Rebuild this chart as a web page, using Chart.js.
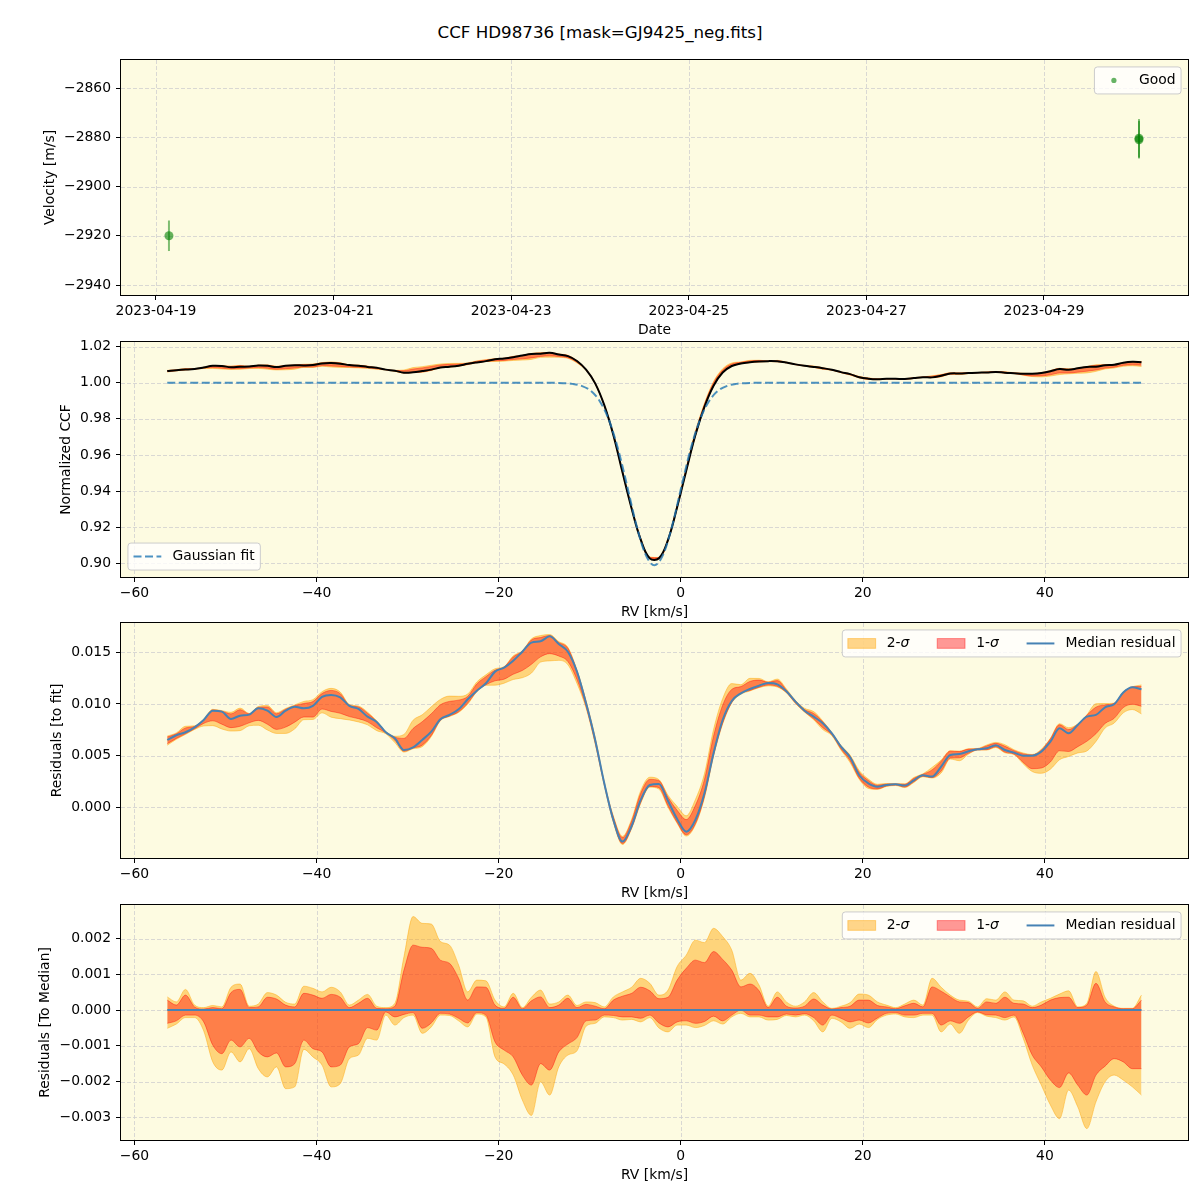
<!DOCTYPE html>
<html lang="en">
<head>
<meta charset="UTF-8">
<title>CCF HD98736 [mask=GJ9425_neg.fits]</title>
<script src="https://cdn.jsdelivr.net/npm/chart.js"></script>
<style>
  body { margin: 0; background: #ffffff; font-family: 'DejaVu Sans', sans-serif; }
  #page { position: relative; width: 1200px; height: 1200px; overflow: hidden; }
  #suptitle { position: absolute; left: 0; top: 21px; width: 1200px; text-align: center;
              font-size: 16.7px; line-height: 22px; color: #000; }
  .panel { position: absolute; left: 0; width: 1200px; height: 299px; }
</style>
</head>
<body>
<div id="page">
  <div id="suptitle">CCF HD98736 [mask=GJ9425_neg.fits]</div>
  <div class="panel" style="top:44px"><canvas id="velChart"></canvas></div>
  <div class="panel" style="top:326px"><canvas id="ccfChart"></canvas></div>
  <div class="panel" style="top:607px"><canvas id="residChart"></canvas></div>
  <div class="panel" style="top:889px"><canvas id="medChart"></canvas></div>
</div>
<script>
// ---------- data ----------
// velocity panel: days after 2023-04-19 00:00
const obsDays = [0.146, 11.07, 11.07];
const obsVel = [-2920.0, -2881.0, -2880.4];
const obsErr = [6.2, 7.6, 7.8];
const dateTicks = [0, 2, 4, 6, 8, 10];
const dateLabels = ['2023-04-19', '2023-04-21', '2023-04-23', '2023-04-25', '2023-04-27', '2023-04-29'];
const velTicks = [-2940, -2920, -2900, -2880, -2860];

// CCF grid (km/s)
const rv = [
  -56.4, -55.4, -54.4, -53.4, -52.4, -51.4, -50.4, -49.4, -48.4, -47.4,
  -46.4, -45.4, -44.4, -43.4, -42.4, -41.4, -40.4, -39.4, -38.4, -37.4,
  -36.4, -35.4, -34.4, -33.4, -32.4, -31.4, -30.4, -29.4, -28.4, -27.4,
  -26.4, -25.4, -24.4, -23.4, -22.4, -21.4, -20.4, -19.4, -18.4, -17.4,
  -16.4, -15.4, -14.4, -13.4, -12.4, -11.4, -10.4, -9.4, -8.4, -7.4,
  -6.4, -5.4, -4.4, -3.4, -2.4, -1.4, -0.4, 0.6, 1.6, 2.6,
  3.6, 4.6, 5.6, 6.6, 7.6, 8.6, 9.6, 10.6, 11.6, 12.6,
  13.6, 14.6, 15.6, 16.6, 17.6, 18.6, 19.6, 20.6, 21.6, 22.6,
  23.6, 24.6, 25.6, 26.6, 27.6, 28.6, 29.6, 30.6, 31.6, 32.6,
  33.6, 34.6, 35.6, 36.6, 37.6, 38.6, 39.6, 40.6, 41.6, 42.6,
  43.6, 44.6, 45.6, 46.6, 47.6, 48.6, 49.6, 50.6
];

// median normalized CCF
const ccfMedian = [
  1.0065, 1.0070, 1.0073, 1.0077, 1.0085, 1.0094, 1.0093, 1.0086, 1.0089, 1.0090,
  1.0096, 1.0094, 1.0087, 1.0094, 1.0097, 1.0096, 1.0098, 1.0107, 1.0109, 1.0106,
  1.0098, 1.0095, 1.0088, 1.0083, 1.0073, 1.0067, 1.0056, 1.0058, 1.0065, 1.0073,
  1.0085, 1.0089, 1.0095, 1.0105, 1.0113, 1.0120, 1.0131, 1.0135, 1.0142, 1.0151,
  1.0159, 1.0161, 1.0166, 1.0157, 1.0148, 1.0121, 1.0073, 0.9997, 0.9876, 0.9710,
  0.9504, 0.9304, 0.9131, 0.9027, 0.9028, 0.9130, 0.9311, 0.9513, 0.9710, 0.9867,
  0.9984, 1.0057, 1.0093, 1.0107, 1.0114, 1.0118, 1.0120, 1.0119, 1.0112, 1.0102,
  1.0094, 1.0088, 1.0081, 1.0072, 1.0059, 1.0048, 1.0031, 1.0023, 1.0020, 1.0022,
  1.0022, 1.0021, 1.0026, 1.0031, 1.0030, 1.0039, 1.0051, 1.0052, 1.0054, 1.0056,
  1.0057, 1.0060, 1.0056, 1.0053, 1.0050, 1.0050, 1.0054, 1.0064, 1.0076, 1.0072,
  1.0080, 1.0088, 1.0089, 1.0097, 1.0100, 1.0111, 1.0116, 1.0114
];

// Gaussian fit, sampled on its own grid
const gaussRv = [-56.4, -13.9, -12.9, -11.9, -10.9, -9.9, -8.9, -7.9, -6.9, -5.9, -4.9, -3.9,
  -2.9, -1.9, -0.9, 0.1, 1.1, 2.1, 3.1, 4.1, 5.1, 6.1, 7.1, 8.1, 50.6];
const gaussFit = [1.0000, 1.0000, 0.9998, 0.9994, 0.9983, 0.9956, 0.9898, 0.9795, 0.9636, 0.9431, 0.9217, 0.9052,
  0.8989, 0.9052, 0.9217, 0.9431, 0.9636, 0.9795, 0.9898, 0.9956, 0.9983, 0.9994, 0.9998, 1.0000, 1.0000];

// median residual to the fit
const residMedian = [
  0.00652, 0.00697, 0.00726, 0.00774, 0.00845, 0.00935, 0.00926, 0.00855, 0.00887, 0.00897,
  0.00958, 0.00935, 0.00874, 0.00935, 0.00974, 0.00958, 0.00981, 0.01068, 0.01087, 0.01064,
  0.00981, 0.00952, 0.00877, 0.00826, 0.00726, 0.00668, 0.00555, 0.00581, 0.00652, 0.00732,
  0.00852, 0.00894, 0.00948, 0.01045, 0.01129, 0.01200, 0.01313, 0.01352, 0.01419, 0.01506,
  0.01594, 0.01606, 0.01655, 0.01581, 0.01506, 0.01313, 0.01006, 0.00652, 0.00232, -0.00123,
  -0.00332, -0.00181, 0.00071, 0.00216, 0.00226, 0.00061, -0.00113, -0.00236, -0.00123, 0.00135,
  0.00523, 0.00845, 0.01029, 0.01103, 0.01145, 0.01177, 0.01203, 0.01190, 0.01123, 0.01023,
  0.00935, 0.00877, 0.00813, 0.00716, 0.00587, 0.00484, 0.00310, 0.00232, 0.00200, 0.00216,
  0.00222, 0.00210, 0.00261, 0.00310, 0.00297, 0.00393, 0.00506, 0.00516, 0.00542, 0.00561,
  0.00571, 0.00600, 0.00555, 0.00529, 0.00500, 0.00500, 0.00539, 0.00635, 0.00764, 0.00716,
  0.00797, 0.00877, 0.00894, 0.00968, 0.00997, 0.01110, 0.01161, 0.01142
];

// band edges relative to the median
const sig2Hi = [
  0.00037, 0.00023, 0.00058, 0.00014, 0.00007, 0.00013, 0.00009, 0.00064, 0.00073, 0.00011,
  0.00017, 0.00049, 0.00042, 0.00022, 0.00017, 0.00067, 0.00061, 0.00051, 0.00064, 0.00051,
  0.00014, 0.00028, 0.00044, 0.00011, 0.00007, 0.00019, 0.00150, 0.00262, 0.00243, 0.00241,
  0.00192, 0.00182, 0.00126, 0.00051, 0.00084, 0.00082, 0.00028, 0.00009, 0.00047, 0.00007,
  0.00036, 0.00056, 0.00017, 0.00023, 0.00042, 0.00013, 0.00023, 0.00021, 0.00009, 0.00037,
  0.00051, 0.00064, 0.00089, 0.00075, 0.00042, 0.00056, 0.00122, 0.00154, 0.00196, 0.00189,
  0.00229, 0.00206, 0.00168, 0.00084, 0.00103, 0.00070, 0.00011, 0.00051, 0.00023, 0.00011,
  0.00023, 0.00049, 0.00023, 0.00005, 0.00011, 0.00021, 0.00045, 0.00042, 0.00023, 0.00014,
  0.00007, 0.00017, 0.00028, 0.00014, 0.00089, 0.00064, 0.00042, 0.00028, 0.00025, 0.00009,
  0.00032, 0.00028, 0.00051, 0.00028, 0.00026, 0.00011, 0.00023, 0.00033, 0.00045, 0.00054,
  0.00009, 0.00019, 0.00108, 0.00036, 0.00011, 0.00005, 0.00005, 0.00042
];
const sig1Hi = [
  0.00028, 0.00014, 0.00042, 0.00009, 0.00003, 0.00007, 0.00004, 0.00049, 0.00058, 0.00007,
  0.00009, 0.00036, 0.00031, 0.00014, 0.00009, 0.00047, 0.00042, 0.00033, 0.00044, 0.00036,
  0.00007, 0.00019, 0.00033, 0.00005, 0.00004, 0.00011, 0.00112, 0.00182, 0.00176, 0.00173,
  0.00140, 0.00131, 0.00089, 0.00028, 0.00065, 0.00064, 0.00014, 0.00005, 0.00036, 0.00004,
  0.00026, 0.00037, 0.00007, 0.00014, 0.00033, 0.00007, 0.00016, 0.00011, 0.00004, 0.00028,
  0.00039, 0.00047, 0.00064, 0.00054, 0.00032, 0.00036, 0.00084, 0.00117, 0.00140, 0.00133,
  0.00164, 0.00142, 0.00112, 0.00065, 0.00073, 0.00054, 0.00007, 0.00036, 0.00011, 0.00006,
  0.00011, 0.00031, 0.00014, 0.00003, 0.00007, 0.00011, 0.00028, 0.00028, 0.00013, 0.00009,
  0.00004, 0.00012, 0.00019, 0.00009, 0.00065, 0.00053, 0.00037, 0.00023, 0.00021, 0.00005,
  0.00023, 0.00019, 0.00036, 0.00019, 0.00017, 0.00007, 0.00014, 0.00028, 0.00035, 0.00036,
  0.00007, 0.00014, 0.00075, 0.00023, 0.00009, 0.00004, 0.00004, 0.00028
];
const sig1Lo = [
  -0.00037, -0.00030, -0.00014, -0.00014, -0.00033, -0.00098, -0.00122, -0.00084, -0.00103, -0.00079,
  -0.00117, -0.00131, -0.00120, -0.00159, -0.00150, -0.00084, -0.00108, -0.00117, -0.00159, -0.00154,
  -0.00103, -0.00094, -0.00049, -0.00056, -0.00005, -0.00019, -0.00012, -0.00007, -0.00051, -0.00036,
  -0.00009, -0.00011, -0.00023, -0.00036, -0.00007, -0.00014, -0.00089, -0.00112, -0.00131, -0.00182,
  -0.00210, -0.00150, -0.00168, -0.00117, -0.00095, -0.00077, -0.00030, -0.00028, -0.00014, -0.00015,
  -0.00019, -0.00019, -0.00023, -0.00014, -0.00036, -0.00047, -0.00033, -0.00030, -0.00037, -0.00032,
  -0.00017, -0.00030, -0.00014, 0.00000, -0.00014, -0.00014, -0.00019, -0.00019, -0.00011, -0.00014,
  -0.00010, -0.00021, -0.00042, -0.00014, -0.00023, -0.00033, -0.00028, -0.00036, -0.00022, -0.00009,
  -0.00007, -0.00014, -0.00014, -0.00009, -0.00009, -0.00042, -0.00030, -0.00037, -0.00019, -0.00005,
  -0.00013, -0.00014, -0.00021, -0.00014, -0.00064, -0.00126, -0.00159, -0.00196, -0.00217, -0.00176,
  -0.00210, -0.00238, -0.00182, -0.00157, -0.00136, -0.00145, -0.00164, -0.00164
];
const sig2Lo = [
  -0.00051, -0.00039, -0.00021, -0.00021, -0.00058, -0.00145, -0.00168, -0.00117, -0.00145, -0.00108,
  -0.00164, -0.00187, -0.00159, -0.00220, -0.00215, -0.00110, -0.00131, -0.00154, -0.00215, -0.00206,
  -0.00136, -0.00126, -0.00079, -0.00084, -0.00014, -0.00042, -0.00021, -0.00014, -0.00065, -0.00047,
  -0.00014, -0.00015, -0.00030, -0.00047, -0.00011, -0.00019, -0.00131, -0.00151, -0.00182, -0.00252,
  -0.00295, -0.00201, -0.00238, -0.00159, -0.00126, -0.00114, -0.00045, -0.00037, -0.00019, -0.00021,
  -0.00028, -0.00026, -0.00033, -0.00021, -0.00050, -0.00061, -0.00042, -0.00042, -0.00049, -0.00043,
  -0.00030, -0.00039, -0.00019, -0.00009, -0.00019, -0.00019, -0.00028, -0.00026, -0.00015, -0.00019,
  -0.00014, -0.00030, -0.00061, -0.00023, -0.00033, -0.00051, -0.00039, -0.00049, -0.00026, -0.00014,
  -0.00011, -0.00019, -0.00021, -0.00014, -0.00014, -0.00061, -0.00039, -0.00065, -0.00028, -0.00007,
  -0.00017, -0.00021, -0.00028, -0.00019, -0.00078, -0.00154, -0.00210, -0.00266, -0.00304, -0.00224,
  -0.00271, -0.00332, -0.00257, -0.00201, -0.00182, -0.00196, -0.00215, -0.00238
];

const rvTicks = [-60, -40, -20, 0, 20, 40];
const ccfTicks = [0.90, 0.92, 0.94, 0.96, 0.98, 1.00, 1.02];
const residTicks = [0.000, 0.005, 0.010, 0.015];
const medTicks = [-0.003, -0.002, -0.001, 0.000, 0.001, 0.002];

// ---------- styling ----------
const PLOT_BG = '#fdfbe1';
const GRID = '#cfcfcf';
const SIG2 = 'rgba(255,165,0,0.45)';
const SIG1 = 'rgba(255,0,0,0.4)';
const MED = '#4682b4';
const GAUSS = 'rgba(31,119,180,0.8)';
const OBS = 'rgba(0,128,0,0.6)';
const FS = 13.9;
const FONT = "'DejaVu Sans', sans-serif";

Chart.defaults.font.family = FONT;
Chart.defaults.font.size = FS;
Chart.defaults.color = '#000';

const fmtNum = (v, d) => (v < 0 ? '\u2212' : '') + Math.abs(v).toFixed(d);
const pts = (xs, ys) => xs.map((x, i) => ({ x, y: ys[i] }));
const shifted = (base, off) => rv.map((x, i) => ({ x, y: base[i] + off[i] }));

const legends = {
  velChart: { corner: 'ur', items: [{ type: 'marker', color: OBS, parts: [{ t: 'Good' }] }] },
  ccfChart: { corner: 'll', items: [{ type: 'line', color: GAUSS, dash: [8, 3.5], parts: [{ t: 'Gaussian fit' }] }] },
  residChart: { corner: 'ur', items: [
    { type: 'patch', color: SIG2, parts: [{ t: '2-' }, { t: '\u03c3', it: true }] },
    { type: 'patch', color: SIG1, parts: [{ t: '1-' }, { t: '\u03c3', it: true }] },
    { type: 'line', color: MED, parts: [{ t: 'Median residual' }] }] },
};
legends.medChart = legends.residChart;

function setFont(ctx, it) { ctx.font = (it ? 'italic ' : '') + FS + 'px ' + FONT; }

function drawLegend(chart, spec) {
  const { ctx, chartArea: a } = chart;
  const pad = 0.4 * FS, hl = 2 * FS, htp = 0.8 * FS, cs = 2 * FS, bap = 0.5 * FS, h = 27;
  ctx.save();
  const widths = spec.items.map(item => item.parts.reduce((w, p) => { setFont(ctx, p.it); return w + ctx.measureText(p.t).width; }, 0));
  const w = 2 * pad + spec.items.length * (hl + htp) + widths.reduce((s, v) => s + v, 0) + cs * (spec.items.length - 1);
  const x0 = spec.corner === 'ur' ? a.right - bap - w : a.left + bap;
  const y0 = spec.corner === 'ur' ? a.top + bap : a.bottom - bap - h;
  ctx.beginPath();
  if (ctx.roundRect) ctx.roundRect(x0, y0, w, h, 3); else ctx.rect(x0, y0, w, h);
  ctx.fillStyle = 'rgba(255,255,255,0.8)';
  ctx.fill();
  ctx.strokeStyle = '#cccccc';
  ctx.lineWidth = 1;
  ctx.stroke();
  const cy = y0 + h / 2;
  let x = x0 + pad;
  spec.items.forEach(item => {
    if (item.type === 'patch') {
      ctx.fillStyle = item.color;
      ctx.strokeStyle = item.color;
      ctx.fillRect(x, cy - 0.35 * FS, hl, 0.7 * FS);
      ctx.strokeRect(x, cy - 0.35 * FS, hl, 0.7 * FS);
    } else if (item.type === 'line') {
      ctx.strokeStyle = item.color;
      ctx.lineWidth = 2;
      ctx.setLineDash(item.dash || []);
      ctx.beginPath(); ctx.moveTo(x, cy); ctx.lineTo(x + hl, cy); ctx.stroke();
      ctx.setLineDash([]);
    } else {
      ctx.fillStyle = item.color;
      ctx.beginPath(); ctx.arc(x + hl / 2, cy, 2.6, 0, Math.PI * 2); ctx.fill();
    }
    x += hl + htp;
    ctx.fillStyle = '#000';
    ctx.textBaseline = 'middle';
    ctx.textAlign = 'left';
    item.parts.forEach(p => { setFont(ctx, p.it); ctx.fillText(p.t, x, cy); x += ctx.measureText(p.t).width; });
    x += cs;
  });
  ctx.restore();
}

// background, dashed grid, frame and legend like matplotlib axes
const mplAxes = {
  id: 'mplAxes',
  beforeDraw(chart) {
    const { ctx, chartArea: a } = chart;
    ctx.save();
    ctx.fillStyle = PLOT_BG;
    ctx.fillRect(a.left, a.top, a.right - a.left, a.bottom - a.top);
    ctx.restore();
  },
  beforeDatasetsDraw(chart) {
    const { ctx, chartArea: a, scales } = chart;
    ctx.save();
    ctx.strokeStyle = GRID;
    ctx.lineWidth = 0.8;
    ctx.setLineDash([4, 2]);
    scales.x.ticks.forEach(t => {
      const px = Math.round(scales.x.getPixelForValue(t.value)) + 0.5;
      ctx.beginPath(); ctx.moveTo(px, a.top); ctx.lineTo(px, a.bottom); ctx.stroke();
    });
    scales.y.ticks.forEach(t => {
      const py = Math.round(scales.y.getPixelForValue(t.value)) + 0.5;
      ctx.beginPath(); ctx.moveTo(a.left, py); ctx.lineTo(a.right, py); ctx.stroke();
    });
    ctx.restore();
  },
  afterDraw(chart) {
    const { ctx, chartArea: a } = chart;
    ctx.save();
    ctx.strokeStyle = '#000';
    ctx.lineWidth = 1;
    ctx.strokeRect(a.left - 0.5, a.top - 0.5, a.right - a.left + 1, a.bottom - a.top + 1);
    ctx.restore();
    const spec = legends[chart.canvas.id];
    if (spec) drawLegend(chart, spec);
  }
};

const errorBars = {
  id: 'errorBars',
  afterDatasetsDraw(chart) {
    const { ctx, scales: { x, y } } = chart;
    ctx.save();
    ctx.strokeStyle = 'rgba(0,128,0,0.5)';
    ctx.lineWidth = 2;
    obsDays.forEach((d, i) => {
      const px = x.getPixelForValue(d);
      ctx.beginPath();
      ctx.moveTo(px, y.getPixelForValue(obsVel[i] - obsErr[i]));
      ctx.lineTo(px, y.getPixelForValue(obsVel[i] + obsErr[i]));
      ctx.stroke();
    });
    ctx.restore();
  }
};

const tickGrid = { drawOnChartArea: false, drawTicks: true, tickLength: 5, tickColor: '#000', tickWidth: 1 };

function xAxis(title, ticks, labels, min, max) {
  return {
    type: 'linear', min, max,
    afterFit: s => { s.height = 48; },
    afterBuildTicks: s => { s.ticks = ticks.map(v => ({ value: v })); },
    grid: tickGrid,
    border: { display: false },
    ticks: { autoSkip: false, maxRotation: 0, padding: 3, color: '#000',
             callback: (v, i) => labels ? labels[i] : fmtNum(v, 0) },
    title: { display: true, text: title, color: '#000', padding: { top: 4, bottom: 4 } }
  };
}

function yAxis(title, ticks, dec, min, max, width) {
  return {
    type: 'linear', min, max,
    afterFit: s => { s.width = width; },
    afterBuildTicks: s => { s.ticks = ticks.map(v => ({ value: v })); },
    grid: tickGrid,
    border: { display: false },
    ticks: { padding: 5, color: '#000', callback: v => fmtNum(v, dec) },
    title: { display: true, text: title, color: '#000', padding: { top: 4, bottom: 4 } }
  };
}

function options(padLeft, xs, ys) {
  return {
    responsive: true,
    maintainAspectRatio: false,
    animation: false,
    events: [],
    layout: { padding: { top: 16, right: 12, bottom: 0, left: padLeft } },
    elements: { point: { radius: 0 }, line: { cubicInterpolationMode: 'monotone', borderJoinStyle: 'round' } },
    plugins: { legend: { display: false }, tooltip: { enabled: false } },
    scales: { x: xs, y: ys }
  };
}

function bandSets(base) {
  return [
    { data: shifted(base, sig2Lo), borderColor: SIG2, borderWidth: 1, fill: false, order: 4 },
    { data: shifted(base, sig2Hi), borderColor: SIG2, borderWidth: 1, backgroundColor: SIG2, fill: '-1', order: 3 },
    { data: shifted(base, sig1Lo), borderColor: SIG1, borderWidth: 1, fill: false, order: 2 },
    { data: shifted(base, sig1Hi), borderColor: SIG1, borderWidth: 1, backgroundColor: SIG1, fill: '-1', order: 1 }
  ];
}

const rvMin = -61.48, rvMax = 55.71;

// panel 1: velocity time series
new Chart(document.getElementById('velChart'), {
  type: 'scatter',
  data: { datasets: [{ data: pts(obsDays, obsVel), pointRadius: 4.5, backgroundColor: OBS, borderWidth: 0 }] },
  options: options(38, xAxis('Date', dateTicks, dateLabels, -0.394, 11.622),
                   yAxis('Velocity [m/s]', velTicks, 0, -2944.06, -2848.6, 83)),
  plugins: [mplAxes, errorBars]
});

// panel 2: normalized CCF with Gaussian fit
new Chart(document.getElementById('ccfChart'), {
  type: 'line',
  data: { datasets: [
    ...bandSets(ccfMedian),
    { data: pts(rv, ccfMedian), borderColor: '#000', borderWidth: 2, fill: false, order: 0.5,
      cubicInterpolationMode: 'default', tension: 0.4 },
    { data: pts(gaussRv, gaussFit), borderColor: GAUSS, borderWidth: 2, borderDash: [8, 3.5], fill: false, order: 0 }
  ] },
  options: options(54, xAxis('RV [km/s]', rvTicks, null, rvMin, rvMax),
                   yAxis('Normalized CCF', ccfTicks, 2, 0.8924, 1.0226, 67)),
  plugins: [mplAxes]
});

// panel 3: residuals to the fit
new Chart(document.getElementById('residChart'), {
  type: 'line',
  data: { datasets: [
    ...bandSets(residMedian),
    { data: pts(rv, residMedian), borderColor: MED, borderWidth: 2, fill: false, order: 0 }
  ] },
  options: options(45, xAxis('RV [km/s]', rvTicks, null, rvMin, rvMax),
                   yAxis('Residuals [to fit]', residTicks, 3, -0.004907, 0.017836, 76)),
  plugins: [mplAxes]
});

// panel 4: residuals to the median
const zeroLine = rv.map(() => 0);
new Chart(document.getElementById('medChart'), {
  type: 'line',
  data: { datasets: [
    ...bandSets(zeroLine),
    { data: pts(rv, zeroLine), borderColor: MED, borderWidth: 2, fill: false, order: 0 }
  ] },
  options: options(33, xAxis('RV [km/s]', rvTicks, null, rvMin, rvMax),
                   yAxis('Residuals [To Median]', medTicks, 3, -0.003638, 0.002944, 88)),
  plugins: [mplAxes]
});
</script>
</body>
</html>
